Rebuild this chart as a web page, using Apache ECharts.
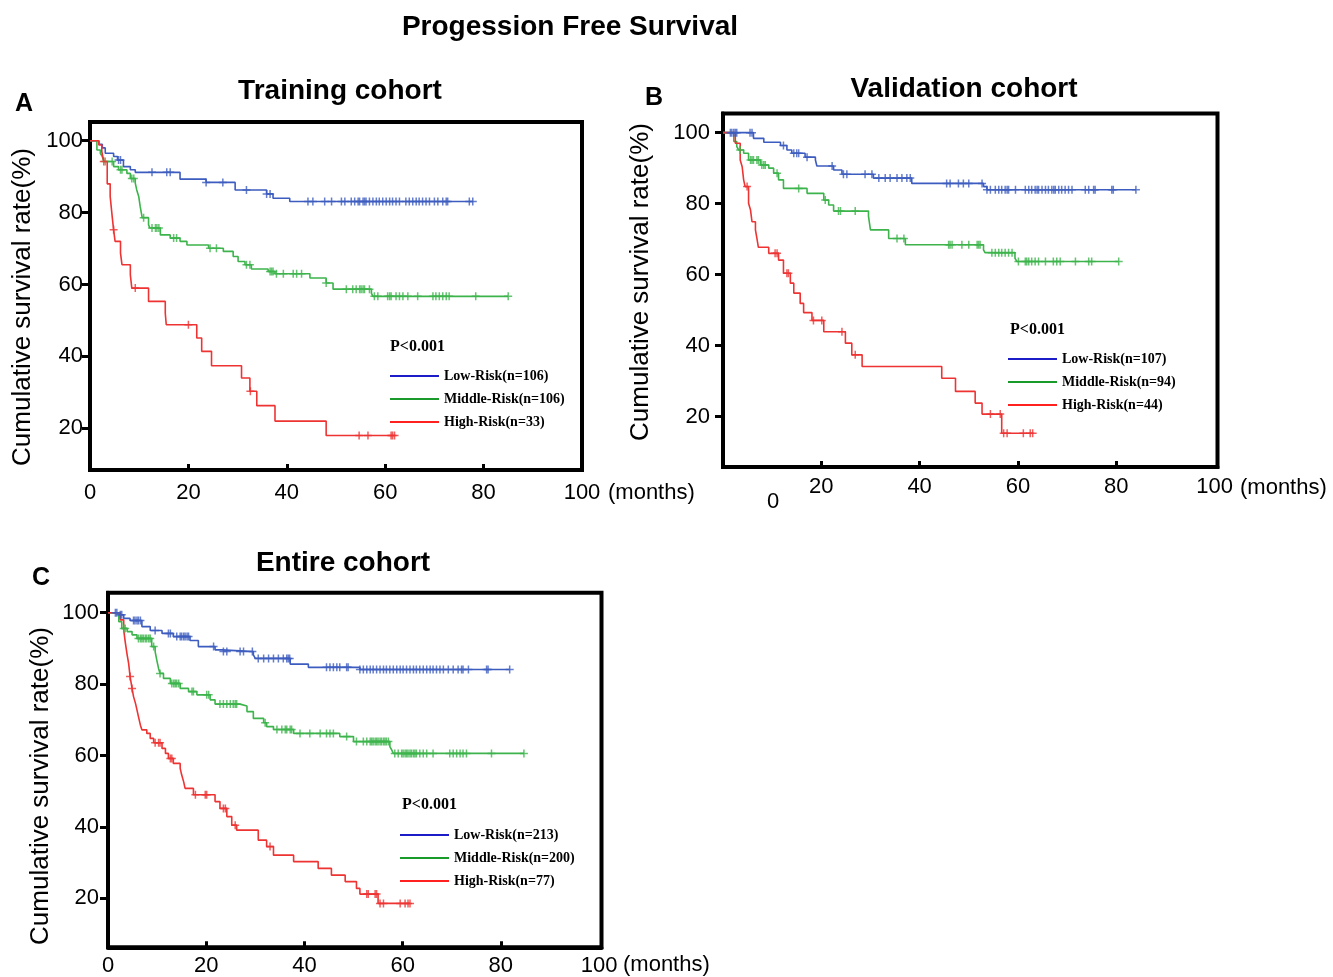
<!DOCTYPE html>
<html>
<head>
<meta charset="utf-8">
<title>Progession Free Survival</title>
<script src="https://cdn.jsdelivr.net/npm/echarts@6/dist/echarts.min.js"></script>
<style>
  html, body { margin: 0; padding: 0; background: #fff; }
  #chart { width: 1333px; height: 977px; }
</style>
</head>
<body>
<div id="chart"></div>
<script>
// tick labels
var monthTicks = [0, 20, 40, 60, 80, 100];
var monthInnerTicks = [20, 40, 60, 80];
var rateTicks = [20, 40, 60, 80, 100];

// Training cohort: [month, survival %] after each event, censored months
var trainLow = [[0,100],[1.8,99],[2.5,98],[3.1,96.5],[4.8,95.6],[5.6,94.6],[6.8,92.8],[8.2,91.9],[9.2,91.2],[18.3,89.3],[23.6,88.4],[29.5,86.3],[35.9,85.2],[37.2,84.0],[40.6,83.1]];
var trainLowCens = [5.8,6.2,12.6,15.6,16.3,23.6,27.0,31.8,35.9,36.6,44.3,45.3,47.7,49.1,51.1,51.8,53.1,53.8,54.5,54.8,55.5,55.8,56.1,56.8,57.5,58.2,58.8,59.5,60.2,60.9,61.5,62.2,62.9,64.2,64.9,65.6,66.3,66.9,67.6,68.3,69.0,70.0,70.7,71.7,72.4,72.7,77.1,77.8];
var trainMid = [[0,100],[1.4,97.4],[2.1,96.5],[2.5,95.6],[2.8,94.2],[4.8,92.8],[5.8,91.9],[7.5,90.9],[8.2,89.5],[9.2,88.2],[9.5,86.3],[9.9,84.5],[10.2,81.7],[10.6,78.6],[11.9,76.6],[12.2,75.7],[14.3,73.8],[16.3,72.9],[18.3,72.0],[19.7,71.0],[24.1,70.1],[27.1,69.2],[29.1,67.8],[30.1,66.4],[31.5,65.5],[32.8,64.3],[36.2,63.6],[37.6,63.0],[44.7,61.8],[48.0,60.4],[49.4,58.7],[57.2,57.6],[57.5,56.7]];
var trainMidCens = [3.1,4.5,6.2,6.5,8.5,8.9,10.9,12.6,13.3,13.6,14.0,17.0,17.6,24.4,25.7,31.8,32.5,36.6,36.9,37.2,37.9,39.3,41.3,42.0,43.0,48.0,52.1,53.4,54.1,54.8,55.1,55.5,55.8,56.8,57.8,58.5,60.5,60.9,61.2,62.2,62.9,63.6,64.6,66.6,69.7,70.3,71.0,71.7,72.4,73.0,78.4,85.0];
var trainHigh = [[0,100],[1.8,98.8],[2.4,97.0],[2.8,94.2],[3.5,88.0],[4.1,84.5],[4.5,79.0],[4.8,75.2],[5.1,72.0],[6.2,68.7],[6.5,65.5],[8.2,62.7],[8.5,59.0],[11.9,55.3],[15.3,52.0],[15.5,48.8],[21.7,45.1],[22.7,41.4],[24.7,37.4],[30.8,34.0],[32.5,30.3],[33.9,26.3],[37.6,22.0],[48.0,18.0]];
var trainHighCens = [2.8,4.8,9.2,20.0,32.6,54.7,56.5,61.2,61.5,61.9];

// Validation cohort
var validLow = [[0,100],[6.2,98.4],[8.3,97.3],[11.7,96.4],[13.0,95.1],[14.0,94.2],[16.7,93.1],[18.8,92.3],[19.1,90.6],[22.5,89.5],[24.2,88.3],[30.6,87.2],[38.4,85.7],[53.0,84.8],[53.7,83.9]];
var validLowCens = [1.5,1.8,2.2,2.5,2.8,5.5,5.9,12.3,14.4,15.0,15.4,17.1,22.2,24.5,25.2,28.9,30.3,31.7,33.0,34.0,35.4,36.4,37.4,38.1,45.5,46.2,47.9,48.9,50.0,52.7,53.7,54.4,55.4,56.1,56.7,57.4,57.8,58.1,59.5,61.5,62.2,62.8,63.5,63.9,64.2,64.9,65.6,66.2,66.9,67.3,67.6,68.3,68.9,69.6,70.3,71.0,73.7,74.4,75.4,75.7,79.1,79.4,84.0];
var validMid = [[0,100],[2.2,97.5],[2.8,96.1],[3.2,95.1],[4.2,94.2],[5.2,92.3],[7.6,90.9],[9.3,90.0],[10.3,88.6],[11.3,86.7],[12.3,84.3],[17.1,82.9],[20.5,81.0],[21.5,79.6],[22.5,77.9],[29.6,76.4],[30.0,72.6],[33.7,70.2],[37.1,68.4],[53.0,67.0],[53.3,66.2],[59.4,64.6],[59.8,63.7]];
var validMidCens = [3.5,5.6,5.9,6.2,6.9,7.2,7.9,8.3,8.6,11.0,15.4,20.8,23.5,23.9,26.9,35.4,36.8,45.9,46.2,46.6,48.6,50.0,51.7,52.0,52.3,54.7,55.4,56.1,56.7,57.4,58.1,58.8,60.1,61.5,61.8,62.2,62.8,63.5,64.2,65.6,67.2,67.9,68.6,71.7,74.4,75.0,80.5];
var validHigh = [[0,100],[2.5,97.0],[3.5,92.3],[3.9,90.4],[4.2,86.7],[4.5,84.8],[5.2,80.1],[5.6,78.2],[5.9,74.9],[6.6,72.6],[6.9,70.2],[7.2,67.7],[9.3,66.0],[11.3,64.1],[12.3,60.4],[13.7,57.6],[14.4,54.8],[15.7,51.9],[16.4,49.3],[18.1,47.1],[20.5,43.9],[24.9,40.7],[26.2,37.4],[28.3,34.1],[44.5,30.8],[47.3,27.1],[51.3,23.8],[52.7,20.7],[56.7,15.3]];
var validHighCens = [4.9,10.6,11.0,13.0,13.3,18.4,20.1,24.2,26.9,54.4,56.4,57.1,57.8,61.1,62.5,63.0];

// Entire cohort
var allLow = [[0,100],[2.2,99.4],[3.2,98.4],[4.5,97.8],[6.9,96.1],[8.6,95.0],[11.0,94.2],[13.3,93.3],[16.7,92.2],[18.4,90.5],[21.8,89.6],[23.2,89.1],[29.6,88.2],[30.0,87.2],[37.1,85.6],[40.8,84.7],[51.3,84.1]];
var allLowCens = [1.5,1.8,2.5,2.8,5.2,5.5,5.9,6.2,6.6,9.6,12.3,12.7,14.0,14.7,15.0,15.4,15.7,16.1,16.4,21.5,23.5,24.2,26.9,27.6,29.4,30.6,31.7,32.7,33.7,34.7,35.7,36.4,36.7,37.0,44.5,45.2,45.9,46.6,47.2,48.6,48.9,51.3,52.0,52.7,53.4,54.0,54.7,55.4,56.1,56.7,57.4,58.1,58.8,59.5,60.1,60.8,61.5,62.2,62.8,63.5,64.2,64.9,65.6,66.2,66.9,67.6,68.3,69.3,70.3,71.3,72.0,72.3,73.4,77.1,77.4,81.8];
var allMid = [[0,100],[2.2,97.5],[2.8,95.6],[3.9,94.7],[4.9,93.8],[5.9,92.8],[8.9,90.5],[9.6,89.1],[10.0,86.3],[10.3,84.4],[10.6,83.0],[11.3,81.6],[12.7,80.2],[14.7,78.8],[16.4,77.9],[18.1,77.0],[20.8,75.6],[21.8,74.4],[26.9,73.9],[28.3,72.3],[29.6,70.4],[31.7,69.2],[32.3,68.1],[33.7,67.3],[37.8,66.2],[47.2,65.3],[50.0,63.9],[57.4,62.5],[57.8,61.5],[58.1,60.6]];
var allMidCens = [3.2,3.5,6.2,6.6,6.9,7.2,7.6,7.9,8.3,8.6,9.3,10.6,13.0,13.4,13.7,14.0,14.4,17.1,17.4,20.1,20.5,22.8,23.5,24.2,24.9,25.5,25.9,26.2,32.0,34.4,35.4,36.1,36.4,37.1,37.4,39.1,41.1,43.2,44.5,45.2,45.9,48.6,50.6,52.0,52.7,53.4,53.7,54.0,54.4,54.7,55.0,55.4,55.7,56.1,56.4,56.7,57.1,58.4,59.1,59.8,60.1,60.5,60.8,61.1,61.5,61.8,62.2,62.5,62.8,63.5,64.2,64.9,66.2,69.6,70.3,71.0,71.7,72.3,73.0,78.1,84.7];
var allHigh = [[0,100],[2.5,98.0],[3.2,95.2],[3.5,91.9],[3.9,88.2],[4.2,85.8],[4.5,82.1],[4.9,78.8],[5.2,76.5],[5.6,74.6],[5.9,72.8],[6.2,70.9],[6.6,68.5],[6.9,67.2],[7.9,66.2],[8.6,64.8],[9.3,63.6],[11.0,62.0],[11.7,60.6],[12.3,59.2],[13.3,57.8],[14.7,56.4],[15.0,54.6],[15.4,52.7],[15.7,50.8],[17.4,49.0],[21.8,47.1],[22.8,45.2],[24.2,42.9],[25.2,40.5],[26.2,39.1],[30.6,36.3],[32.3,34.5],[33.7,32.1],[37.8,30.3],[42.8,28.4],[45.5,26.5],[48.3,24.7],[50.6,22.8],[51.3,21.2],[55.0,18.6]];
var allHighCens = [4.5,4.9,9.6,10.3,10.6,12.7,13.0,17.8,19.8,20.1,23.5,23.9,25.9,33.0,52.7,53.0,54.4,54.7,55.4,56.1,59.5,60.5,61.1,61.5];

var curveColors = ['#3d5cbf', '#3cb44b', '#ee3333'];
var legendColors = ['#1c1cc8', '#1a9a2a', '#ff2020'];
var plus = 'path://M3.25,0H4.75V3.25H8V4.75H4.75V8H3.25V4.75H0V3.25H3.25Z';

function survivalAt(steps, t) {
    var y = steps[0][1];
    for (var i = 0; i < steps.length; i++) {
        if (steps[i][0] <= t) y = steps[i][1];
    }
    return y;
}

function curve(name, steps, cens, color, gi) {
    var last = steps[steps.length - 1][1];
    var end = cens[cens.length - 1];
    return [
        {
            name: name, type: 'line', step: 'end', xAxisIndex: gi, yAxisIndex: gi,
            data: steps.concat([[end, last]]), showSymbol: false, silent: true,
            lineStyle: { color: color, width: 1.6 }, itemStyle: { color: color }, z: 2
        },
        {
            name: name + ' censored', type: 'scatter', xAxisIndex: gi, yAxisIndex: gi,
            data: cens.map(function (t) { return [t, survivalAt(steps, t)]; }),
            symbol: plus, symbolSize: 8, silent: true,
            itemStyle: { color: color }, z: 3
        }
    ];
}

var panels = [
    { names: ['Low-Risk(n=106)', 'Middle-Risk(n=106)', 'High-Risk(n=33)'],
      data: [[trainLow, trainLowCens], [trainMid, trainMidCens], [trainHigh, trainHighCens]] },
    { names: ['Low-Risk(n=107)', 'Middle-Risk(n=94)', 'High-Risk(n=44)'],
      data: [[validLow, validLowCens], [validMid, validMidCens], [validHigh, validHighCens]] },
    { names: ['Low-Risk(n=213)', 'Middle-Risk(n=200)', 'High-Risk(n=77)'],
      data: [[allLow, allLowCens], [allMid, allMidCens], [allHigh, allHighCens]] }
];

var series = [];
panels.forEach(function (p, gi) {
    p.data.forEach(function (d, k) {
        series = series.concat(curve(p.names[k], d[0], d[1], curveColors[k], gi));
    });
});

// grid boxes
var grids = [
    { left: 90, top: 122, width: 492, height: 348 },
    { left: 723, top: 113.5, width: 494.5, height: 353.5 },
    { left: 108, top: 592.7, width: 493.5, height: 354.6 }
];
var xRanges = [[0, 100], [0, 100.6], [0, 100.5]];
var yRanges = [[8.4, 105.2], [5.8, 105.4], [6.3, 105.6]];
var xLabelMargin = [12, 9, 8];
var yLabelMargin = [7, 13, 9];

var sans = 'Liberation Sans';
var serif = 'Liberation Serif';

var xAxes = grids.map(function (g, i) {
    return {
        type: 'value', gridIndex: i, min: xRanges[i][0], max: xRanges[i][1],
        axisLine: { lineStyle: { color: '#000', width: 4 } },
        axisTick: { inside: true, length: 6, customValues: monthInnerTicks, lineStyle: { color: '#000', width: 3 } },
        axisLabel: {
            customValues: i === 1 ? monthTicks.slice(1) : monthTicks,
            margin: xLabelMargin[i], fontSize: 22, fontFamily: sans, color: '#000'
        },
        splitLine: { show: false }
    };
});

var yAxes = grids.map(function (g, i) {
    return {
        type: 'value', gridIndex: i, min: yRanges[i][0], max: yRanges[i][1],
        axisLine: { lineStyle: { color: '#000', width: 4 } },
        axisTick: { inside: false, length: 8, customValues: rateTicks, lineStyle: { color: '#000', width: 3 } },
        axisLabel: { customValues: rateTicks, margin: yLabelMargin[i], fontSize: 22, fontFamily: sans, color: '#000' },
        splitLine: { show: false }
    };
});

var legendPos = [[390, 368], [1008, 351], [400, 827]];
var legends = panels.map(function (p, i) {
    return {
        orient: 'vertical', left: legendPos[i][0], top: legendPos[i][1], padding: 0,
        icon: 'rect', itemWidth: 49, itemHeight: 2, itemGap: 7, selectedMode: false,
        data: p.names.map(function (n, k) { return { name: n, itemStyle: { color: legendColors[k], borderWidth: 0 } }; }),
        textStyle: { fontFamily: serif, fontWeight: 'bold', fontSize: 14, color: '#000', lineHeight: 16 }
    };
});

function label(text, x, y, size, opts) {
    opts = opts || {};
    return {
        type: 'text', x: x, y: y, rotation: opts.rotation || 0, silent: true,
        style: {
            text: text, fill: '#000', align: opts.align || 'center', verticalAlign: 'middle',
            font: (opts.bold === false ? '' : 'bold ') + size + 'px "' + (opts.family || sans) + '"'
        }
    };
}

var yName = 'Cumulative survival rate(%)';
var graphics = [
    label('Progession Free Survival', 570, 27, 28),
    label('Training cohort', 340, 91, 28),
    label('Validation cohort', 964, 89, 28),
    label('Entire cohort', 343, 563, 28),
    label('A', 24, 104, 25),
    label('B', 654, 98, 25),
    label('C', 41, 578, 25),
    label(yName, 23, 307, 26, { rotation: Math.PI / 2, bold: false }),
    label(yName, 641, 282, 26, { rotation: Math.PI / 2, bold: false }),
    label(yName, 41, 786, 26, { rotation: Math.PI / 2, bold: false }),
    label('P<0.001', 390, 347, 16, { align: 'left', family: serif }),
    label('P<0.001', 1010, 330, 16, { align: 'left', family: serif }),
    label('P<0.001', 402, 805, 16, { align: 'left', family: serif }),
    label('(months)', 608, 493, 22, { align: 'left', bold: false }),
    label('(months)', 1240, 488, 22, { align: 'left', bold: false }),
    label('(months)', 623, 965, 22, { align: 'left', bold: false }),
    label('0', 773, 502, 22, { bold: false })
];

var myChart = echarts.init(document.getElementById('chart'));
var option = {
    animation: false,
    backgroundColor: '#fff',
    textStyle: { fontFamily: sans },
    grid: grids.map(function (g) {
        return Object.assign({ show: true, borderColor: '#000', borderWidth: 4, backgroundColor: 'transparent', outerBoundsMode: 'none' }, g);
    }),
    xAxis: xAxes,
    yAxis: yAxes,
    legend: legends,
    series: series,
    graphic: graphics
};
myChart.setOption(option);
</script>
</body>
</html>
